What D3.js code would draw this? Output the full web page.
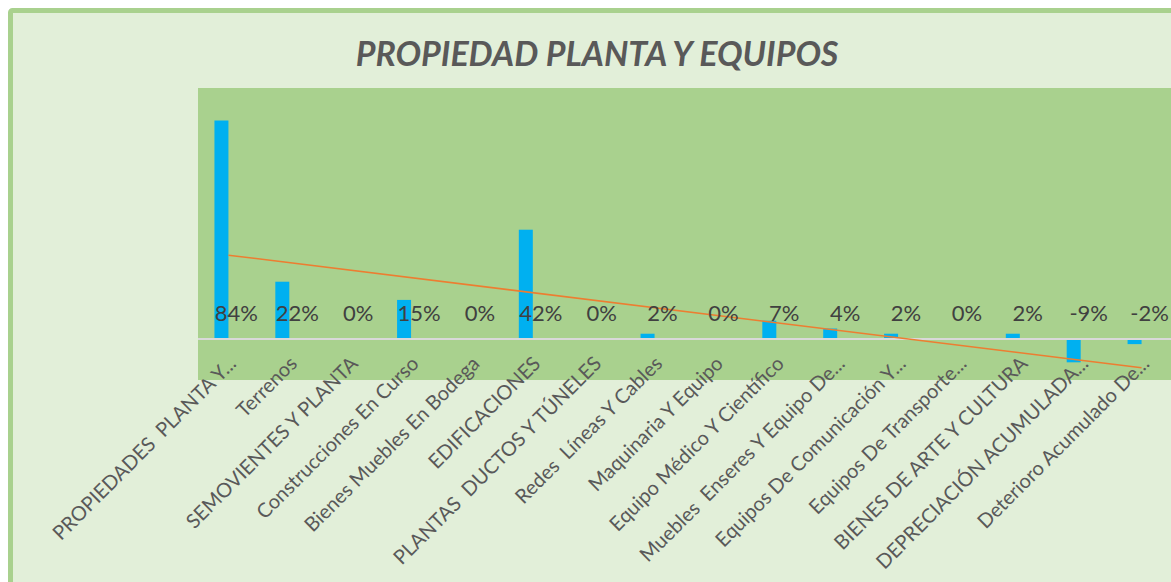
<!DOCTYPE html>
<html>
<head>
<meta charset="utf-8">
<script src="https://cdn.jsdelivr.net/npm/d3@7"></script>
<style>
  body { margin: 0; background: #ffffff; }
  svg { display: block; }
</style>
</head>
<body>
<div id="chart"></div>
<script>
// categories as shown on the axis (Excel truncates the long ones)
let categories = [
  "PROPIEDADES  PLANTA Y...",
  "Terrenos",
  "SEMOVIENTES Y PLANTA",
  "Construcciones En Curso",
  "Bienes Muebles En Bodega",
  "EDIFICACIONES",
  "PLANTAS  DUCTOS Y TÚNELES",
  "Redes  Líneas Y Cables",
  "Maquinaria Y Equipo",
  "Equipo Médico Y Científico",
  "Muebles  Enseres Y Equipo De...",
  "Equipos De Comunicación Y...",
  "Equipos De Transporte...",
  "BIENES DE ARTE Y CULTURA",
  "DEPRECIACIÓN ACUMULADA...",
  "Deterioro Acumulado De..."
];
// percentage values (bars)
let values = [84, 22, 0, 15, 0, 42, 0, 2, 0, 7, 4, 2, 0, 2, -9, -2];
// text of the data labels
let labels = ["84%", "22%", "0%", "15%", "0%", "42%", "0%", "2%", "0%", "7%", "4%", "2%", "0%", "2%", "-9%", "-2%"];

let title = "PROPIEDAD PLANTA Y EQUIPOS";

let svgWidth = 1171;
let svgHeight = 582;

// plot area
let plotLeft = 198, plotRight = 1172, plotTop = 88, plotBottom = 380;

let svg = d3.select("#chart")
  .append("svg")
  .attr("width", svgWidth)
  .attr("height", svgHeight);

// chart area with green frame
svg.append("rect")
  .attr("x", 10.5).attr("y", 10.5)
  .attr("width", 1200).attr("height", 620)
  .attr("rx", 2)
  .attr("fill", "#e2efd9")
  .attr("stroke", "#a9d18e")
  .attr("stroke-width", 5);

// plot area background
svg.append("rect")
  .attr("x", plotLeft).attr("y", plotTop)
  .attr("width", plotRight - plotLeft).attr("height", plotBottom - plotTop)
  .attr("fill", "#a9d18e");

// title
svg.append("text")
  .attr("x", 597).attr("y", 66)
  .attr("text-anchor", "middle")
  .attr("font-family", "Lato, 'Open Sans', sans-serif")
  .attr("font-weight", "bold")
  .attr("font-style", "italic")
  .attr("font-size", 34)
  .attr("fill", "#595959")
  .text(title);

//scales
let xScale = d3.scaleBand().domain(categories).range([plotLeft, plotRight]);
// two slots per category: the bar and (empty) label slot, like an Excel cluster
let xSub = d3.scaleBand().domain([0, 1]).range([0, xScale.bandwidth()]).paddingOuter(1.175);
let yScale = d3.scaleLinear().domain([-15.8, 96.5]).range([plotBottom, plotTop]);

// bars
svg.selectAll("rect.bar")
  .data(values)
  .enter()
  .append("rect")
  .attr("class", "bar")
  .attr("x", (d, i) => xScale(categories[i]) + xSub(0))
  .attr("width", xSub.bandwidth())
  .attr("y", d => yScale(Math.max(0, d)))
  .attr("height", d => Math.abs(yScale(d) - yScale(0)))
  .attr("fill", "#00b0f0");

// zero line
svg.append("line")
  .attr("x1", plotLeft).attr("x2", plotRight)
  .attr("y1", yScale(0)).attr("y2", yScale(0))
  .attr("stroke", "#d9d9d9")
  .attr("stroke-width", 2);

// linear trendline computed from the values
let n = values.length;
let xs = d3.range(1, n + 1);
let mx = d3.mean(xs), my = d3.mean(values);
let slope = d3.sum(xs, (x, i) => (x - mx) * (values[i] - my)) / d3.sum(xs, x => (x - mx) * (x - mx));
let intercept = my - slope * mx;
let trend = [1, n].map(x => ({ cat: categories[x - 1], y: intercept + slope * x }));

svg.append("path")
  .datum(trend)
  .attr("d", d3.line()
    .x(d => xScale(d.cat) + xScale.bandwidth() / 2)
    .y(d => yScale(d.y)))
  .attr("fill", "none")
  .attr("stroke", "#ed7d31")
  .attr("stroke-width", 1.5);

// data labels
svg.selectAll("text.lbl")
  .data(labels)
  .enter()
  .append("text")
  .attr("class", "lbl")
  .attr("x", (d, i) => xScale(categories[i]) + xSub(1) + xSub.bandwidth() / 2 + 1)
  .attr("y", 321)
  .attr("text-anchor", "middle")
  .attr("font-family", "Lato, 'Open Sans', sans-serif")
  .attr("font-size", 22)
  .attr("fill", "#404040")
  .text(d => d);

// category axis labels, rotated
svg.selectAll("text.cat")
  .data(categories)
  .enter()
  .append("text")
  .attr("class", "cat")
  .attr("transform", d => `translate(${xScale(d) + xScale.bandwidth() / 2 + 4},360) rotate(-45)`)
  .attr("text-anchor", "end")
  .attr("dy", "0.35em")
  .attr("font-family", "Lato, 'Open Sans', sans-serif")
  .attr("font-size", 20)
  .attr("fill", "#595959")
  .style("white-space", "pre")
  .text(d => d);
</script>
</body>
</html>
